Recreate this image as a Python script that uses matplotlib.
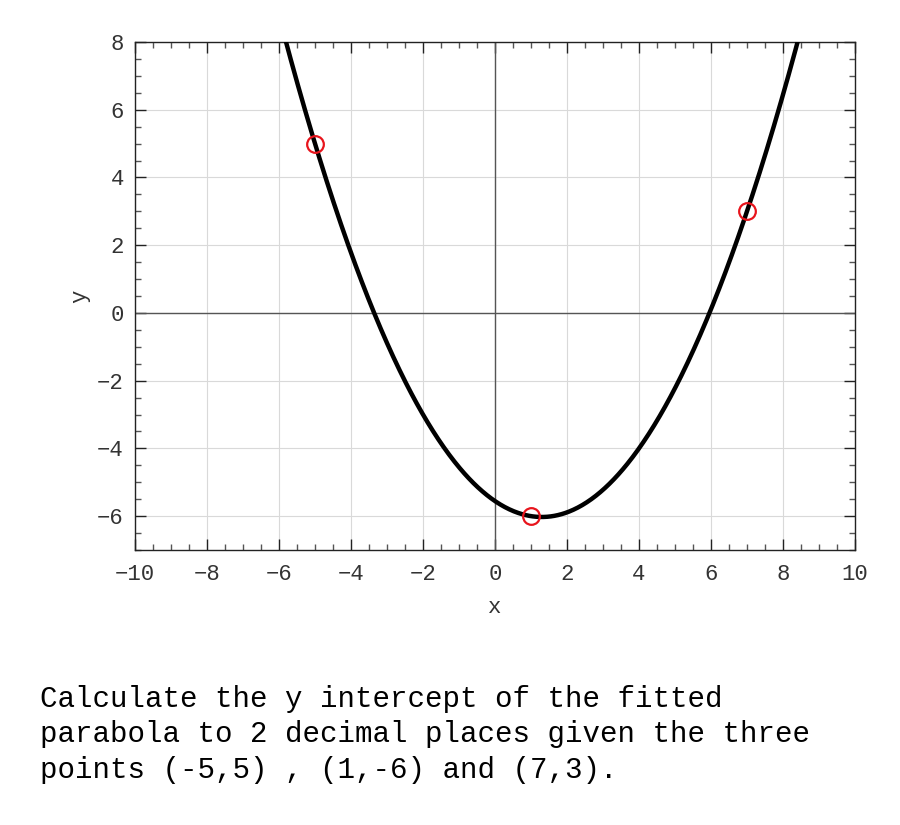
import numpy as np
import matplotlib
matplotlib.use("Agg")
import matplotlib.pyplot as plt
from matplotlib.ticker import MultipleLocator

px = [-5, 1, 7]
py = [5, -6, 3]
xticks = [-10, -8, -6, -4, -2, 0, 2, 4, 6, 8, 10]
yticks = [-6, -4, -2, 0, 2, 4, 6, 8]
question = ("Calculate the y intercept of the fitted\n"
            "parabola to 2 decimal places given the three\n"
            "points (-5,5) , (1,-6) and (7,3).")

plt.rcParams['font.family'] = ['Liberation Mono', 'DejaVu Sans Mono']

fig = plt.figure(figsize=(9, 8.25), dpi=100)
ax = fig.add_axes([135/900, 1-550/825, 720/900, 508/825])

coef = np.polyfit(px, py, 2)
xs = np.linspace(-10, 10, 801)
ax.plot(xs, np.polyval(coef, xs), color='black', lw=3.2, zorder=3)
ax.plot(px, py, 'o', mfc='none', mec='#e8141c', mew=1.6, ms=12, zorder=4)

ax.axhline(0, color='#555555', lw=1.0, zorder=2)
ax.axvline(0, color='#555555', lw=1.0, zorder=2)

ax.set_xlim(-10, 10)
ax.set_ylim(-7, 8)
ax.set_xticks(xticks)
ax.set_yticks(yticks)
ax.set_xticklabels([str(t).replace('-', '\u2212') for t in xticks])
ax.set_yticklabels([str(t).replace('-', '\u2212') for t in yticks])
ax.xaxis.set_minor_locator(MultipleLocator(0.5))
ax.yaxis.set_minor_locator(MultipleLocator(0.5))
ax.grid(True, which='major', color='#d9d9d9', lw=0.8, zorder=0)
ax.tick_params(which='both', direction='in', top=True, right=True,
               labelsize=16, colors='#222222', labelcolor='#333333')
ax.tick_params(which='major', length=8, width=1)
ax.tick_params(axis='x', which='major', pad=10)
ax.tick_params(axis='y', which='major', pad=8)
ax.tick_params(which='minor', length=4, width=1, colors='#555555')
for s in ax.spines.values():
    s.set_color('#222222')
    s.set_linewidth(1)

ax.set_xlabel('x', fontsize=16, color='#333333', labelpad=9)
ax.set_ylabel('y', fontsize=16, color='#333333', labelpad=5)

fig.text(40/900, 1-685/825, question, fontsize=21, color='black',
         va='top', ha='left', linespacing=1.33)

fig.savefig('out.png', dpi=100)
